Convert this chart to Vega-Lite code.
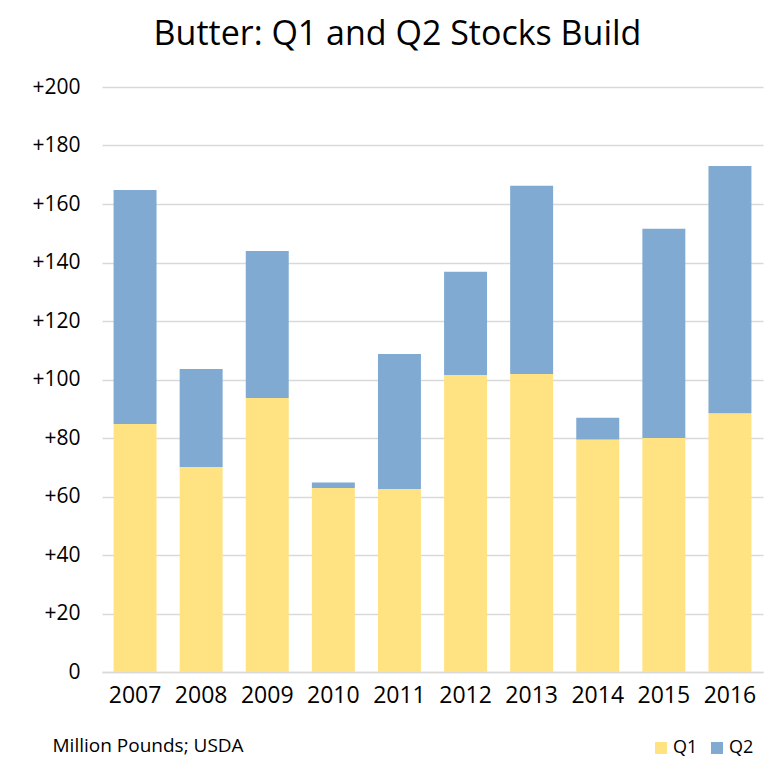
{
  "$schema": "https://vega.github.io/schema/vega-lite/v6.json",
  "width": 661,
  "height": 585,
  "autosize": {"type": "none"},
  "padding": {"left": 102, "top": 87, "right": 20, "bottom": 98},
  "background": "white",
  "title": {
    "text": "Butter: Q1 and Q2 Stocks Build",
    "fontSize": 34,
    "font": "Open Sans",
    "fontWeight": "normal",
    "color": "#000000",
    "anchor": "middle",
    "dx": -35,
    "offset": 24
  },
  "data": {
    "values": [
      {"year": "2007", "quarter": "Q1", "value": 84.8},
      {"year": "2007", "quarter": "Q2", "value": 80.0},
      {"year": "2008", "quarter": "Q1", "value": 70.1},
      {"year": "2008", "quarter": "Q2", "value": 33.5},
      {"year": "2009", "quarter": "Q1", "value": 93.7},
      {"year": "2009", "quarter": "Q2", "value": 50.2},
      {"year": "2010", "quarter": "Q1", "value": 62.9},
      {"year": "2010", "quarter": "Q2", "value": 1.9},
      {"year": "2011", "quarter": "Q1", "value": 62.6},
      {"year": "2011", "quarter": "Q2", "value": 46.1},
      {"year": "2012", "quarter": "Q1", "value": 101.5},
      {"year": "2012", "quarter": "Q2", "value": 35.3},
      {"year": "2013", "quarter": "Q1", "value": 101.9},
      {"year": "2013", "quarter": "Q2", "value": 64.3},
      {"year": "2014", "quarter": "Q1", "value": 79.5},
      {"year": "2014", "quarter": "Q2", "value": 7.4},
      {"year": "2015", "quarter": "Q1", "value": 80.0},
      {"year": "2015", "quarter": "Q2", "value": 71.5},
      {"year": "2016", "quarter": "Q1", "value": 88.5},
      {"year": "2016", "quarter": "Q2", "value": 84.5}
    ]
  },
  "mark": {"type": "bar"},
  "encoding": {
    "x": {
      "field": "year",
      "type": "ordinal",
      "scale": {"paddingInner": 0.35, "paddingOuter": 0.175},
      "axis": {
        "title": "Million Pounds; USDA",
        "titleFont": "Open Sans",
        "titleFontSize": 19,
        "titleFontWeight": "normal",
        "titleColor": "#000000",
        "titleAnchor": "start",
        "titleAlign": "left",
        "titleX": -50,
        "titleY": 64,
        "labelAngle": 0,
        "labelFont": "Open Sans",
        "labelFontSize": 23,
        "labelColor": "#000000",
        "labelPadding": 12,
        "ticks": false,
        "domainColor": "#d9d9d9",
        "domainWidth": 1.5,
        "grid": false
      }
    },
    "y": {
      "field": "value",
      "type": "quantitative",
      "stack": "zero",
      "scale": {"domain": [0, 200], "nice": false},
      "axis": {
        "title": null,
        "values": [0, 20, 40, 60, 80, 100, 120, 140, 160, 180, 200],
        "labelExpr": "datum.value > 0 ? '+' + datum.label : datum.label",
        "labelFont": "Open Sans",
        "labelFontSize": 21,
        "labelColor": "#000000",
        "labelPadding": 22,
        "ticks": false,
        "domain": false,
        "grid": true,
        "gridColor": "#d9d9d9",
        "gridWidth": 1.5
      }
    },
    "order": {"field": "quarter", "sort": "ascending"},
    "color": {
      "field": "quarter",
      "type": "nominal",
      "scale": {"domain": ["Q1", "Q2"], "range": ["#FFE383", "#80AAD1"]},
      "legend": {
        "title": null,
        "orient": "none",
        "legendX": 550,
        "legendY": 652,
        "direction": "horizontal",
        "symbolType": "square",
        "symbolSize": 144,
        "symbolStrokeWidth": 0,
        "labelFont": "Open Sans",
        "labelFontSize": 18,
        "labelColor": "#000000",
        "labelOffset": 3,
        "columnPadding": 10
      }
    }
  },
  "config": {"view": {"stroke": null}}
}
